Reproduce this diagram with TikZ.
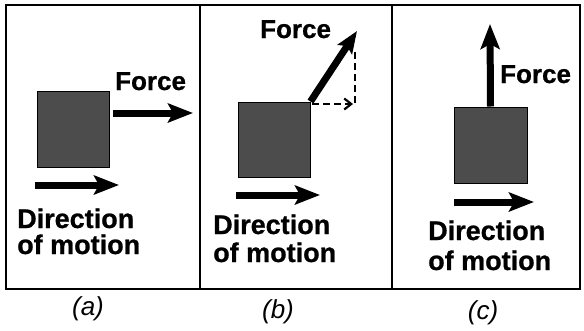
\documentclass[tikz,border=0pt]{standalone}
\usepackage{fontspec}
\setmainfont{Liberation Sans}[BoldFeatures={FakeBold=0.8}]
\usetikzlibrary{arrows.meta}
\begin{document}
\begin{tikzpicture}[x=1pt,y=-1pt,
  frame/.style={line width=1.4pt},
  block/.style={draw=black,line width=1pt,fill=black!70,inner sep=0pt},
  bigarrow/.style={line width=7pt,-{Stealth[length=25pt,width=19pt,inset=5pt]}},
  midarrow/.style={line width=7pt,-{Stealth[length=22pt,width=17pt,inset=4pt]}},
  lbl/.style={font=\bfseries\fontsize{27}{28}\selectfont,inner sep=0pt},
  flbl/.style={font=\bfseries\fontsize{26}{28}\selectfont,inner sep=0pt},
  panelcap/.style={font=\itshape\fontsize{26}{28}\selectfont,inner sep=0pt},
  comp/.style={line width=2.2pt,dash pattern=on 7pt off 4pt}]
\useasboundingbox (0,0) rectangle (584,330);
% frames
\draw[frame] (6,5) rectangle (580,289);
\draw[frame] (200,5) -- (200,289);
\draw[frame] (392,5) -- (392,289);
% panel a
\node[block,minimum width=72pt,minimum height=76pt] (sqa) at (73,129) {};
\coordinate (fa0) at (113,113);
\coordinate (fa1) at (193,113);
\draw[bigarrow] (fa0) -- (fa1);
\node[flbl,anchor=base west] (forcea) at (115,90) {Force};
\coordinate (da0) at (35,185);
\coordinate (da1) at (119,185);
\draw[bigarrow] (da0) -- (da1);
\node[lbl,anchor=base west] (dira) at (17,228) {Direction};
\node[lbl,anchor=base west] (mota) at (17,254) {of motion};
\node[panelcap] (capa) at (88,309) {(a)};
% panel b
\node[block,minimum width=72pt,minimum height=75pt] (sqb) at (274,139.5) {};
\coordinate (fb1) at (357,31);
\draw[midarrow] (sqb.north east) -- (fb1);
\coordinate (vb0) at (355,52);
\coordinate (vb1) at (355,105);
\draw[comp] (vb0) -- (vb1);
\coordinate (hb0) at (312,104);
\coordinate (hb1) at (353,104);
\draw[comp,-{Straight Barb[length=7pt,width=11pt]}] (hb0) -- (hb1);
\node[flbl,anchor=base west] (forceb) at (260,38) {Force};
\coordinate (db0) at (236,195);
\coordinate (db1) at (320,195);
\draw[bigarrow] (db0) -- (db1);
\node[lbl,anchor=base west] (dirb) at (213,234) {Direction};
\node[lbl,anchor=base west] (motb) at (213,262) {of motion};
\node[panelcap] (capb) at (278,312) {(b)};
% panel c
\node[block,minimum width=73pt,minimum height=76pt] (sqc) at (490.5,145) {};
\coordinate (fc1) at (490,24);
\draw[bigarrow] (sqc.north) -- (fc1);
\node[flbl,anchor=base west] (forcec) at (500,83) {Force};
\coordinate (dc0) at (454,202);
\coordinate (dc1) at (534,202);
\draw[bigarrow] (dc0) -- (dc1);
\node[lbl,anchor=base west] (dirc) at (428,240) {Direction};
\node[lbl,anchor=base west] (motc) at (428,270) {of motion};
\node[panelcap] (capc) at (483,313) {(c)};
\end{tikzpicture}
\end{document}
